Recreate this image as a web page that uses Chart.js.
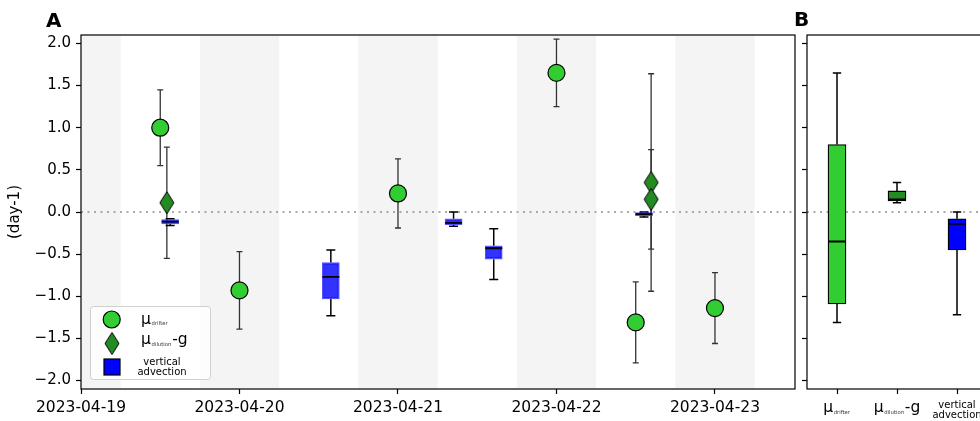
<!DOCTYPE html>
<html>
<head>
<meta charset="utf-8">
<title>Growth rates</title>
<script src="https://cdn.jsdelivr.net/npm/chart.js@4.4.1/dist/chart.umd.min.js"></script>
<style>
  html, body { margin: 0; padding: 0; background: #fff; }
  body { width: 980px; height: 421px; overflow: hidden; position: relative; }
  canvas { position: absolute; top: 0; }
  #chartA { left: 0; }
  #chartB { left: 800px; }
  .panel { position: absolute; top: 10px; font: bold 20px/1 "DejaVu Sans", sans-serif; color: #000; }
</style>
</head>
<body>
<canvas id="chartA" width="800" height="421"></canvas>
<canvas id="chartB" width="190" height="421"></canvas>
<div class="panel" style="left:46px">A</div>
<div class="panel" style="left:794px;top:9px">B</div>
<script>
const startTime = '2023-04-19T00:00';
const dayTicks = ['2023-04-19', '2023-04-20', '2023-04-21', '2023-04-22', '2023-04-23'];
const yTicks = [-2, -1.5, -1, -0.5, 0, 0.5, 1, 1.5, 2];

const seriesNames = ['μ_drifter', 'μ_dilution-g', 'vertical advection'];
const seriesColors = ['#32cd32', '#228b22', '#0000ff'];

// night periods (shaded)
const nightStart = ['2023-04-18T18:00', '2023-04-19T18:00', '2023-04-20T18:00', '2023-04-21T18:00', '2023-04-22T18:00'];
const nightEnd = ['2023-04-19T06:00', '2023-04-20T06:00', '2023-04-21T06:00', '2023-04-22T06:00', '2023-04-23T06:00'];

// panel A: mu drifter
const drifterTime = ['2023-04-19T12:00', '2023-04-20T00:00', '2023-04-21T00:00', '2023-04-22T00:00', '2023-04-22T12:00', '2023-04-23T00:00'];
const drifterMu = [1.00, -0.93, 0.22, 1.65, -1.31, -1.14];
const drifterErr = [0.45, 0.46, 0.41, 0.40, 0.48, 0.42];

// panel A: mu dilution - g
const dilutionTime = ['2023-04-19T13:00', '2023-04-22T14:20', '2023-04-22T14:20'];
const dilutionMu = [0.11, 0.35, 0.15];
const dilutionErr = [0.66, 1.29, 0.59];

// panel A: vertical advection boxes
const advTime = ['2023-04-19T13:30', '2023-04-20T13:50', '2023-04-21T08:25', '2023-04-21T14:30', '2023-04-22T13:15'];
const advLow = [-0.16, -1.23, -0.17, -0.80, -0.06];
const advQ1 = [-0.14, -1.03, -0.15, -0.56, -0.045];
const advMed = [-0.115, -0.77, -0.13, -0.43, -0.025];
const advQ3 = [-0.09, -0.60, -0.08, -0.40, 0.00];
const advHigh = [-0.08, -0.45, 0.00, -0.20, 0.00];

// panel B: summary boxes
const bLow = [-1.31, 0.11, -1.22];
const bQ1 = [-1.09, 0.13, -0.45];
const bMed = [-0.35, 0.15, -0.14];
const bQ3 = [0.80, 0.25, -0.08];
const bHigh = [1.65, 0.35, 0.00];

const days = t => (Date.parse(t + 'Z') - Date.parse(startTime + 'Z')) / 864e5;
const fmtY = v => (v < 0 ? '\u2212' : '') + Math.abs(v).toFixed(1);

Chart.defaults.font.family = '"DejaVu Sans", sans-serif';
Chart.defaults.font.size = 15;
Chart.defaults.color = '#000';

function diamondStyle(w, h, fill) {
    const c = document.createElement('canvas');
    c.width = w + 2;
    c.height = h + 2;
    const g = c.getContext('2d');
    g.beginPath();
    g.moveTo(c.width / 2, 1);
    g.lineTo(w + 1, c.height / 2);
    g.lineTo(c.width / 2, h + 1);
    g.lineTo(1, c.height / 2);
    g.closePath();
    g.fillStyle = fill;
    g.fill();
    g.lineWidth = 1;
    g.strokeStyle = '#000';
    g.stroke();
    return c;
}

function vline(ctx, x, y0, y1, cap, color, lw) {
    ctx.save();
    ctx.strokeStyle = color;
    ctx.lineWidth = lw;
    ctx.beginPath();
    ctx.moveTo(x, y0); ctx.lineTo(x, y1);
    ctx.moveTo(x - cap, y0); ctx.lineTo(x + cap, y0);
    ctx.moveTo(x - cap, y1); ctx.lineTo(x + cap, y1);
    ctx.stroke();
    ctx.restore();
}

function whiskers(chart, xs, lo, q1, q3, hi, cap) {
    const { ctx, scales: { y } } = chart;
    ctx.save();
    ctx.strokeStyle = '#000';
    ctx.lineWidth = 1.5;
    ctx.beginPath();
    xs.forEach((x, i) => {
        const yl = y.getPixelForValue(lo[i]), yh = y.getPixelForValue(hi[i]);
        ctx.moveTo(x, yl); ctx.lineTo(x, y.getPixelForValue(q1[i]));
        ctx.moveTo(x, yh); ctx.lineTo(x, y.getPixelForValue(q3[i]));
        ctx.moveTo(x - cap, yl); ctx.lineTo(x + cap, yl);
        ctx.moveTo(x - cap, yh); ctx.lineTo(x + cap, yh);
    });
    ctx.stroke();
    ctx.restore();
}

function medians(chart, dsIndex, med) {
    const { ctx, scales: { y } } = chart;
    const bars = chart.getDatasetMeta(dsIndex).data;
    ctx.save();
    ctx.strokeStyle = '#000';
    ctx.lineWidth = 1.8;
    ctx.beginPath();
    bars.forEach((b, i) => {
        const py = y.getPixelForValue(med[i]);
        ctx.moveTo(b.x - b.width / 2, py);
        ctx.lineTo(b.x + b.width / 2, py);
    });
    ctx.stroke();
    ctx.restore();
}

function zeroLine(chart) {
    const { ctx, chartArea: a, scales: { y } } = chart;
    const py = y.getPixelForValue(0);
    ctx.save();
    ctx.strokeStyle = 'rgba(128,128,128,0.65)';
    ctx.lineWidth = 2;
    ctx.setLineDash([2, 4.5]);
    ctx.beginPath();
    ctx.moveTo(a.left, py);
    ctx.lineTo(a.right, py);
    ctx.stroke();
    ctx.restore();
}

function frame(chart) {
    const { ctx, chartArea: a } = chart;
    ctx.save();
    ctx.strokeStyle = '#000';
    ctx.lineWidth = 1.2;
    ctx.strokeRect(a.left, a.top, a.right - a.left, a.bottom - a.top);
    ctx.restore();
}

// draws e.g. "μ_dilution-g" as μ with a small subscript and a tail
function drawMath(ctx, x, y, label, big, small, align) {
    const [main, rest] = label.split('_');
    const sub = rest.replace(/-.*/, '');
    const tail = rest.slice(sub.length);
    const fb = big + 'px "DejaVu Sans"', fs = small + 'px "DejaVu Sans"';
    ctx.font = fb;
    const w1 = ctx.measureText(main).width, w3 = ctx.measureText(tail).width;
    ctx.font = fs;
    const w2 = ctx.measureText(sub).width;
    const x0 = align === 'center' ? x - (w1 + w2 + 1.5 + w3) / 2 : x;
    ctx.textAlign = 'left';
    ctx.textBaseline = 'alphabetic';
    ctx.fillStyle = '#000';
    ctx.font = fb;
    ctx.fillText(main, x0, y);
    ctx.font = fs;
    ctx.fillStyle = '#333';
    ctx.fillText(sub, x0 + w1 + 0.7, y + 1.5);
    ctx.fillStyle = '#000';
    ctx.font = fb;
    ctx.fillText(tail, x0 + w1 + w2 + 1.5, y);
}

function drawLines(ctx, x, y, text, size, gap) {
    ctx.font = size + 'px "DejaVu Sans"';
    ctx.textAlign = 'center';
    ctx.textBaseline = 'alphabetic';
    ctx.fillStyle = '#000';
    text.split(' ').forEach((w, i) => ctx.fillText(w, x, y + i * gap));
}

const diamond = diamondStyle(14, 22, seriesColors[1]);

const panelA = {
    id: 'panelA',
    beforeDatasetsDraw(chart) {
        const { ctx, chartArea: a, scales: { x, y } } = chart;
        ctx.save();
        ctx.beginPath();
        ctx.rect(a.left, a.top, a.right - a.left, a.bottom - a.top);
        ctx.clip();
        ctx.fillStyle = '#f4f4f4';
        nightStart.forEach((s, i) => {
            const x0 = x.getPixelForValue(days(s)), x1 = x.getPixelForValue(days(nightEnd[i]));
            ctx.fillRect(x0, a.top, x1 - x0, a.bottom - a.top);
        });
        ctx.restore();
        zeroLine(chart);
        drifterTime.forEach((t, i) => vline(ctx, x.getPixelForValue(days(t)),
            y.getPixelForValue(drifterMu[i] - drifterErr[i]), y.getPixelForValue(drifterMu[i] + drifterErr[i]), 3, '#333', 1.3));
        dilutionTime.forEach((t, i) => vline(ctx, x.getPixelForValue(days(t)),
            y.getPixelForValue(dilutionMu[i] - dilutionErr[i]), y.getPixelForValue(dilutionMu[i] + dilutionErr[i]), 3, '#333', 1.3));
        whiskers(chart, advTime.map(t => x.getPixelForValue(days(t))), advLow, advQ1, advQ3, advHigh, 4.5);
    },
    afterDatasetsDraw(chart) {
        medians(chart, 2, advMed);
        frame(chart);
    },
    afterDraw(chart) {
        const ctx = chart.ctx;
        ctx.save();
        // legend box
        ctx.beginPath();
        ctx.roundRect(90.5, 306.5, 120, 73, 3);
        ctx.fillStyle = 'rgba(255,255,255,0.8)';
        ctx.fill();
        ctx.strokeStyle = '#d0d0d0';
        ctx.lineWidth = 1;
        ctx.stroke();
        ctx.strokeStyle = '#000';
        ctx.lineWidth = 1.2;
        ctx.beginPath();
        ctx.arc(111.7, 319.5, 8.5, 0, Math.PI * 2);
        ctx.fillStyle = seriesColors[0];
        ctx.fill();
        ctx.stroke();
        ctx.drawImage(diamond, 112 - diamond.width / 2, 343.5 - diamond.height / 2);
        ctx.fillStyle = seriesColors[2];
        ctx.fillRect(104, 359, 16, 16);
        ctx.strokeRect(104, 359, 16, 16);
        drawMath(ctx, 141, 323.5, seriesNames[0], 15.5, 5.2, 'left');
        drawMath(ctx, 141, 344, seriesNames[1], 15.5, 5.3, 'left');
        drawLines(ctx, 162, 365, seriesNames[2], 10, 10);
        ctx.restore();
    }
};

const panelB = {
    id: 'panelB',
    beforeDatasetsDraw(chart) {
        zeroLine(chart);
        const x = chart.scales.x;
        whiskers(chart, bLow.map((v, i) => x.getPixelForValue(i)), bLow, bQ1, bQ3, bHigh, 4.2);
    },
    afterDatasetsDraw(chart) {
        medians(chart, 0, bMed);
        frame(chart);
    },
    afterDraw(chart) {
        const { ctx, scales: { x } } = chart;
        ctx.save();
        seriesNames.forEach((name, i) => {
            const cx = x.getPixelForValue(i);
            if (name.includes('_')) drawMath(ctx, cx, 412, name, 15.5, 5.3, 'center');
            else drawLines(ctx, cx, 408, name, 10, 10);
        });
        ctx.restore();
    }
};

const axisGrid = { drawOnChartArea: false, color: '#000', tickLength: 5, tickWidth: 1.2, offset: false };

new Chart(document.getElementById('chartA'), {
    type: 'scatter',
    data: {
        datasets: [
            {
                label: seriesNames[0],
                data: drifterTime.map((t, i) => ({ x: days(t), y: drifterMu[i] })),
                pointStyle: 'circle',
                pointRadius: 8.5,
                backgroundColor: seriesColors[0],
                borderColor: '#000',
                borderWidth: 1.2
            },
            {
                label: seriesNames[1],
                data: dilutionTime.map((t, i) => ({ x: days(t), y: dilutionMu[i] })),
                pointStyle: diamond,
                pointRadius: 11
            },
            {
                type: 'bar',
                label: seriesNames[2],
                data: advTime.map((t, i) => ({ x: days(t), y: [advQ1[i], advQ3[i]] })),
                backgroundColor: 'rgba(0,0,255,0.8)',
                borderColor: 'rgba(40,40,255,0.8)',
                borderWidth: 1.5,
                borderSkipped: false,
                barThickness: 17
            }
        ]
    },
    options: {
        responsive: false,
        animation: false,
        layout: { autoPadding: false, padding: { top: 35, right: 5, bottom: 0, left: 0 } },
        plugins: { legend: { display: false }, tooltip: { enabled: false } },
        scales: {
            x: {
                type: 'linear',
                offset: false,
                min: 0,
                max: 4.505,
                afterBuildTicks: s => { s.ticks = dayTicks.map(d => ({ value: days(d + 'T00:00') })); },
                afterFit: s => { s.height = 32; },
                ticks: { callback: (v, i) => dayTicks[i], padding: 5, maxRotation: 0, autoSkip: false, font: { size: 15.5 } },
                grid: axisGrid,
                border: { display: false }
            },
            y: {
                type: 'linear',
                min: -2.1,
                max: 2.1,
                afterBuildTicks: s => { s.ticks = yTicks.map(v => ({ value: v })); },
                afterFit: s => { s.width = 81; },
                ticks: { callback: fmtY, padding: 5 },
                grid: axisGrid,
                border: { display: false },
                title: { display: true, text: '(day-1)', padding: { top: 6, bottom: 0 } }
            }
        }
    },
    plugins: [panelA]
});

new Chart(document.getElementById('chartB'), {
    type: 'bar',
    data: {
        labels: seriesNames,
        datasets: [{
            data: bQ1.map((v, i) => [v, bQ3[i]]),
            backgroundColor: seriesColors,
            borderColor: '#000',
            borderWidth: 1.3,
            borderSkipped: false,
            barThickness: 18
        }]
    },
    options: {
        responsive: false,
        animation: false,
        layout: { autoPadding: false, padding: { top: 35, right: 3, bottom: 0, left: 0 } },
        plugins: { legend: { display: false }, tooltip: { enabled: false } },
        scales: {
            x: {
                offset: true,
                afterFit: s => { s.height = 32; },
                ticks: { display: false },
                grid: axisGrid,
                border: { display: false }
            },
            y: {
                min: -2.1,
                max: 2.1,
                afterBuildTicks: s => { s.ticks = yTicks.map(v => ({ value: v })); },
                afterFit: s => { s.width = 7; },
                ticks: { display: false },
                grid: axisGrid,
                border: { display: false }
            }
        }
    },
    plugins: [panelB]
});
</script>
</body>
</html>
